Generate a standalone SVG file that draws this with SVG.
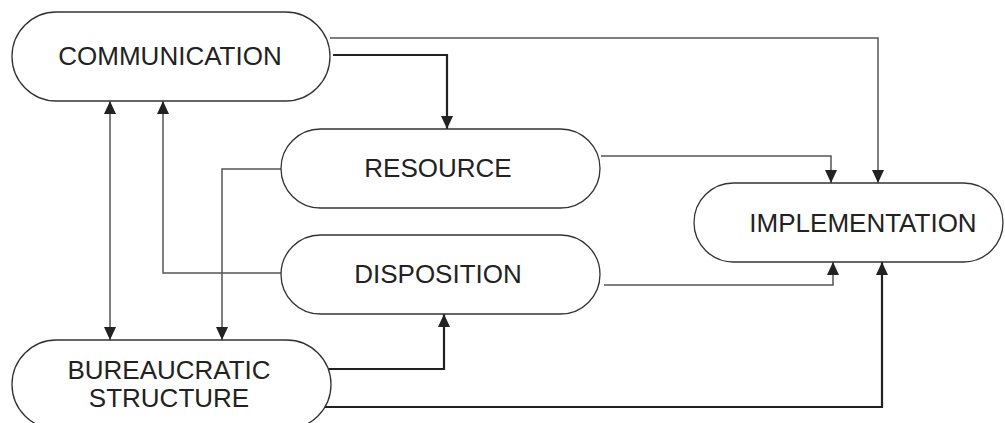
<svg xmlns="http://www.w3.org/2000/svg" width="1005" height="423" viewBox="0 0 1005 423">
<style>
.node{fill:#fff;stroke:#333;stroke-width:1.3}
.lbl{font-family:"Liberation Sans",Arial,sans-serif;font-size:26px;fill:#222;text-anchor:middle}
.c{fill:none;stroke:#555;stroke-width:1.5}
.t{fill:none;stroke:#222;stroke-width:2.2}
</style>
<defs>
<marker id="ah" markerUnits="userSpaceOnUse" markerWidth="13" markerHeight="12" viewBox="0 0 13 12" refX="13" refY="6" orient="auto-start-reverse">
<path d="M0,0 L13,6 L0,12 z" fill="#222"/>
</marker>
</defs>
<rect width="1005" height="423" fill="#fff"/>
<g id="connectors">
<path class="c" d="M330,38 H878 V183" marker-end="url(#ah)"/>
<path class="t" d="M333,55 H447 V129" marker-end="url(#ah)"/>
<path class="c" d="M601,156 H831 V183" marker-end="url(#ah)"/>
<path class="c" d="M604,285 H833 V262" marker-end="url(#ah)"/>
<path class="t" d="M325,407 H882 V262" marker-end="url(#ah)"/>
<path class="t" d="M328,369 H444 V314" marker-end="url(#ah)"/>
<path class="c" d="M110,101 V340" marker-start="url(#ah)" marker-end="url(#ah)"/>
<path class="c" d="M281,273 H163 V101" marker-end="url(#ah)"/>
<path class="c" d="M281,169 H222 V340" marker-end="url(#ah)"/>
</g>
<g id="communication">
<rect class="node" x="12" y="12" width="318" height="89" rx="44.5"/>
<text class="lbl" x="170" y="65">COMMUNICATION</text>
</g>
<g id="resource">
<rect class="node" x="281" y="129" width="319" height="79" rx="39.5"/>
<text class="lbl" x="438" y="177">RESOURCE</text>
</g>
<g id="disposition">
<rect class="node" x="281" y="235" width="319" height="79" rx="39.5"/>
<text class="lbl" x="438" y="283">DISPOSITION</text>
</g>
<g id="implementation">
<rect class="node" x="694" y="183" width="309" height="79" rx="39.5"/>
<text class="lbl" x="863" y="232">IMPLEMENTATION</text>
</g>
<g id="bureaucratic">
<rect class="node" x="12" y="340" width="319" height="89" rx="44.5"/>
<text class="lbl" x="169" y="379">BUREAUCRATIC</text>
<text class="lbl" x="169" y="407">STRUCTURE</text>
</g>
</svg>
